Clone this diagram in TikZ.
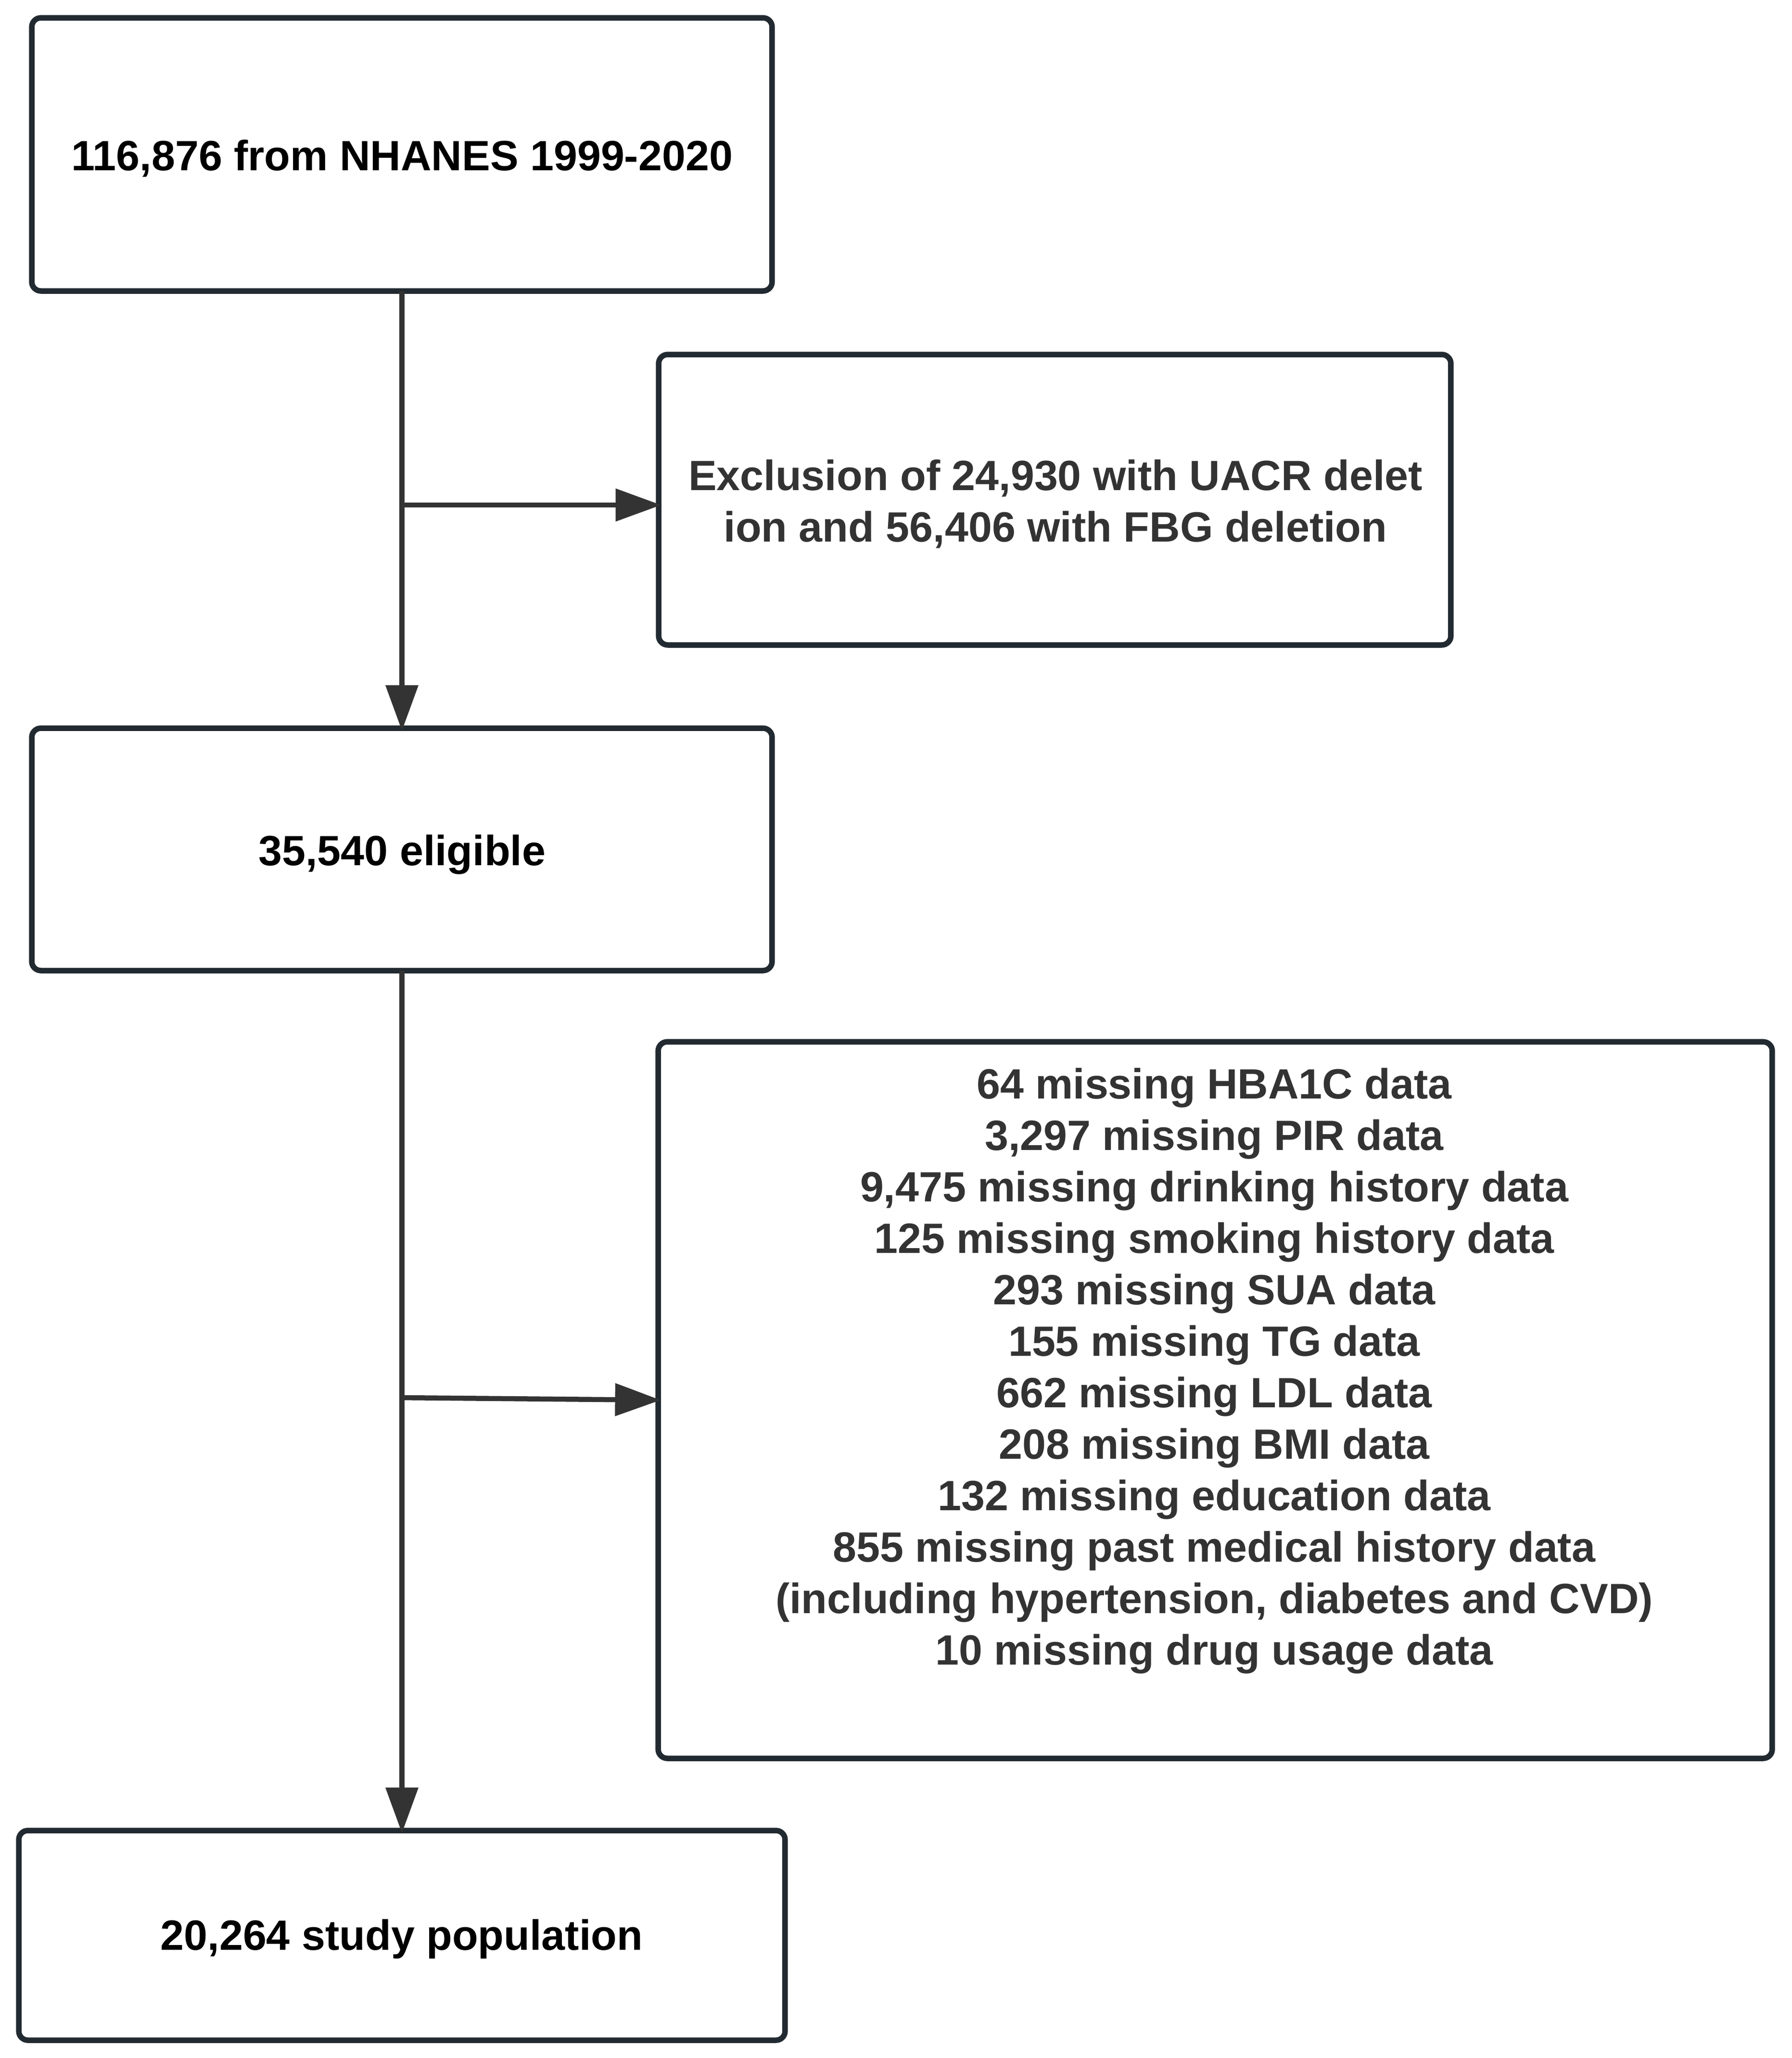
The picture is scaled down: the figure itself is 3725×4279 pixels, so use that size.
\documentclass[tikz,border=0pt]{standalone}
\usepackage{fontspec}
\setmainfont{Liberation Sans}
\usetikzlibrary{arrows.meta}
\definecolor{boxcol}{HTML}{222A31}
\definecolor{arrcol}{HTML}{333333}
\definecolor{txtgray}{HTML}{333333}
\begin{document}
\begin{tikzpicture}[x=0.1pt,y=-0.1pt,
  box/.style={draw=boxcol, line width=1.15pt, rounded corners=1.9pt, rectangle, outer sep=0pt, inner sep=0pt, fill=white},
  lbl/.style={font=\bfseries\fontsize{8.8}{10.7}\selectfont, align=center, inner sep=0pt},
  flow/.style={draw=arrcol, line width=1.05pt, -{Triangle[length=9.5pt,width=6.6pt]}, shorten >=-0.55pt}
]
\useasboundingbox (0,0) rectangle (3725,4279);
\node[box, minimum width=153.9pt, minimum height=56.8pt] (b1) at (835.5,321) {};
\node[lbl, text=black] (t1) at (836,329) {116,876 from NHANES 1999-2020};
\node[box, minimum width=164.7pt, minimum height=60.4pt] (b2) at (2192.5,1039) {};
\node[lbl, text=txtgray] (t2) at (2194,1048) {Exclusion of 24,930 with UACR delet\\ion and 56,406 with FBG deletion};
\node[box, minimum width=153.9pt, minimum height=50.4pt] (b3) at (835.5,1766) {};
\node[lbl, text=black] (t3) at (836,1777) {35,540 eligible};
\node[box, minimum width=231.6pt, minimum height=149pt] (b4) at (2526,2911) {};
\node[lbl, text=txtgray] (t4) at (2524,2850) {64 missing HBA1C data\\3,297 missing PIR data\\9,475 missing drinking history data\\125 missing smoking history data\\293 missing SUA data\\155 missing TG data\\662 missing LDL data\\208 missing BMI data\\132 missing education data\\855 missing past medical history data\\(including hypertension, diabetes and CVD)\\10 missing drug usage data};
\node[box, minimum width=159.3pt, minimum height=43.6pt] (b5) at (835.5,4024) {};
\node[lbl, text=black] (t5) at (835,4032) {20,264 study population};
\coordinate (j1) at (835,1050);
\coordinate (j2) at (835,2906);
\draw[flow] (b1.south) -- (b3.north);
\draw[flow] (b3.south) -- (b3.south |- b5.north);
\draw[flow] (j1) -- (j1 -| b2.west);
\draw[flow] (j2) -- (b4.west);
\end{tikzpicture}
\end{document}
